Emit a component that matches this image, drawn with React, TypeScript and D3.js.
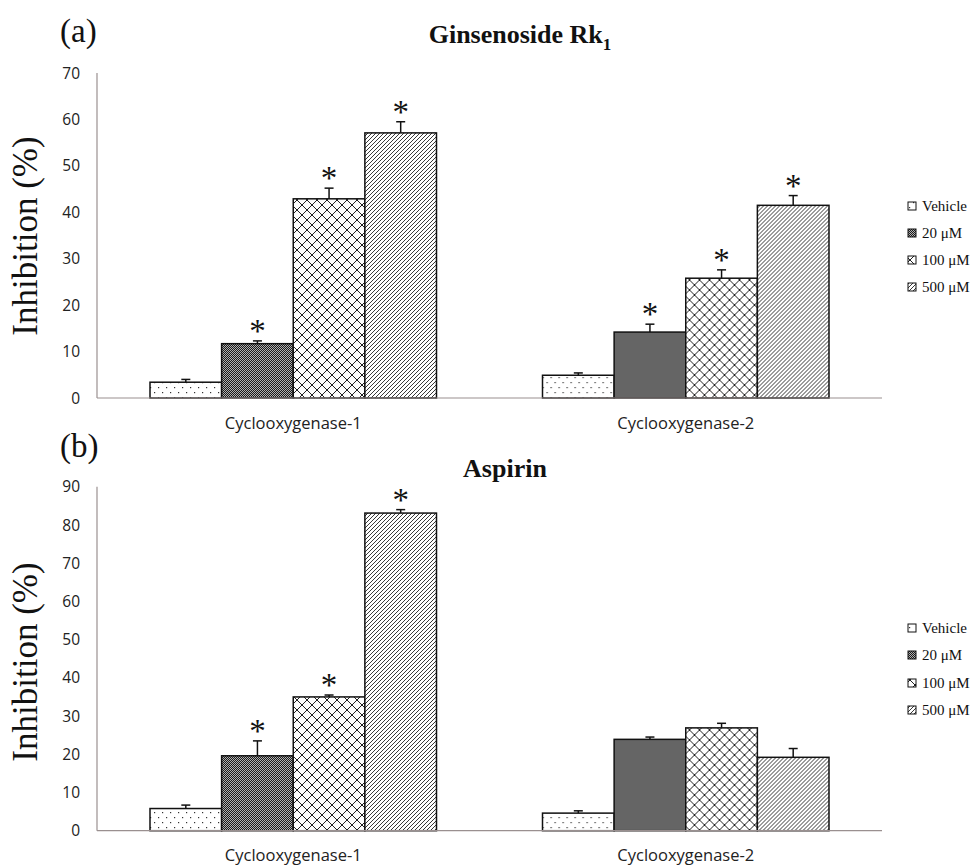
import React from "react";
import * as d3 from "d3";

const categories = ["Cyclooxygenase-1", "Cyclooxygenase-2"];
const seriesNames = ["Vehicle", "20 μM", "100 μM", "500 μM"];

const rkValues = [
  [3.4, 11.7, 42.9, 57.1],
  [4.9, 14.2, 25.8, 41.5],
];
const rkErrors = [
  [0.6, 0.6, 2.3, 2.4],
  [0.5, 1.7, 1.8, 2.1],
];
const rkSig = [
  [false, true, true, true],
  [false, true, true, true],
];
const rkTicks = [0, 10, 20, 30, 40, 50, 60, 70];

const aspValues = [
  [5.8, 19.6, 35.0, 83.1],
  [4.6, 23.9, 26.9, 19.2],
];
const aspErrors = [
  [0.9, 3.9, 0.5, 0.9],
  [0.6, 0.6, 1.2, 2.3],
];
const aspSig = [
  [false, true, true, true],
  [false, false, false, false],
];
const aspTicks = [0, 10, 20, 30, 40, 50, 60, 70, 80, 90];

const patternIds = ["pDots", "pCheck", "pCross", "pHatch"];

const SERIF = "'Liberation Serif', 'Times New Roman', serif";
const SANS = "'Open Sans', 'Noto Sans', sans-serif";
const AXIS = "#9a9090";

type PanelProps = {
  yTop: number;
  yBottom: number;
  ticks: number[];
  values: number[][];
  errors: number[][];
  sig: boolean[][];
  letter: string;
  letterY: number;
  title: React.ReactNode;
  titleX: number;
  titleY: number;
  labelY: number;
  legendY: number[];
};

function Panel(p: PanelProps) {
  const maxT = p.ticks[p.ticks.length - 1];
  const y = d3.scaleLinear().domain([0, maxT]).range([p.yBottom, p.yTop]);
  const x0 = d3.scaleBand<string>().domain(categories).range([97, 882]).padding(0);
  const x1 = d3
    .scaleBand<string>()
    .domain(seriesNames)
    .range([0, x0.bandwidth()])
    .paddingInner(0)
    .paddingOuter(0.74);
  return (
    <g>
      <text x={60} y={p.letterY} fontFamily={SERIF} fontSize={33} fill="#111">
        {p.letter}
      </text>
      <text
        x={p.titleX}
        y={p.titleY}
        textAnchor="middle"
        fontFamily={SERIF}
        fontWeight="bold"
        fontSize={26}
        fill="#111"
      >
        {p.title}
      </text>
      <text
        transform={`translate(37,${p.labelY}) rotate(-90)`}
        textAnchor="middle"
        fontFamily={SERIF}
        fontSize={35}
        fill="#111"
      >
        Inhibition (%)
      </text>
      {p.ticks.map((t) => (
        <text
          key={t}
          x={80}
          y={y(t)}
          dy="0.36em"
          textAnchor="end"
          fontFamily={SANS}
          fontSize={15.5}
          fill="#222"
        >
          {t}
        </text>
      ))}
      {categories.map((c, ci) => (
        <g key={c} transform={`translate(${x0(c)},0)`}>
          {seriesNames.map((s, si) => {
            const v = p.values[ci][si];
            const e = p.errors[ci][si];
            const bx = x1(s)!;
            const bw = x1.bandwidth();
            const cx = bx + bw / 2;
            const capY = y(v + e);
            return (
              <g key={s}>
                <rect
                  x={bx}
                  y={y(v)}
                  width={bw}
                  height={y(0) - y(v)}
                  fill={`url(#${patternIds[si]})`}
                  stroke="#111"
                  strokeWidth={1.5}
                />
                <line x1={cx} x2={cx} y1={y(v)} y2={capY} stroke="#111" strokeWidth={1.5} />
                <line x1={cx - 4.5} x2={cx + 4.5} y1={capY} y2={capY} stroke="#111" strokeWidth={1.5} />
                {p.sig[ci][si] && (
                  <text
                    x={cx}
                    y={capY + 1}
                    textAnchor="middle"
                    fontFamily={SERIF}
                    fontSize={33}
                    fill="#111"
                  >
                    *
                  </text>
                )}
              </g>
            );
          })}
          <text
            x={x0.bandwidth() / 2}
            y={p.yBottom + 30.5}
            textAnchor="middle"
            fontFamily={SANS}
            fontSize={16.5}
            fill="#222"
          >
            {c}
          </text>
        </g>
      ))}
      <line x1={97} x2={97} y1={p.yTop} y2={p.yBottom} stroke={AXIS} strokeWidth={1.2} />
      <line x1={97} x2={882} y1={p.yBottom} y2={p.yBottom} stroke={AXIS} strokeWidth={1.2} />
      {seriesNames.map((s, si) => (
        <g key={s}>
          <rect
            x={908}
            y={p.legendY[si] - 4}
            width={8}
            height={8}
            fill={`url(#${patternIds[si]})`}
            stroke="#111"
            strokeWidth={1}
          />
          <text
            x={922}
            y={p.legendY[si]}
            dy="0.35em"
            fontFamily={SERIF}
            fontSize={15}
            fill="#111"
          >
            {s}
          </text>
        </g>
      ))}
    </g>
  );
}

export default function App() {
  return (
    <svg
      width={980}
      height={866}
      style={{ position: "absolute", left: 0, top: 0, background: "#fff" }}
    >
      <defs>
        <pattern id="pDots" patternUnits="userSpaceOnUse" width={8} height={10}>
          <rect width={8} height={10} fill="#fff" />
          <rect x={1} y={2} width={1.2} height={1.2} fill="#333" />
          <rect x={5} y={7} width={1.2} height={1.2} fill="#333" />
        </pattern>
        <pattern id="pCheck" patternUnits="userSpaceOnUse" width={2} height={2}>
          <rect width={2} height={2} fill="#b0b0b0" />
          <rect x={0} y={0} width={1} height={1} fill="#1a1a1a" />
          <rect x={1} y={1} width={1} height={1} fill="#1a1a1a" />
        </pattern>
        <pattern id="pCross" patternUnits="userSpaceOnUse" width={10} height={10}>
          <rect width={10} height={10} fill="#fff" />
          <path d="M0,0 L10,10 M10,0 L0,10" stroke="#222" strokeWidth={1} />
        </pattern>
        <pattern id="pHatch" patternUnits="userSpaceOnUse" width={4} height={4}>
          <rect width={4} height={4} fill="#fff" />
          <path d="M0,4 L4,0 M-1,1 L1,-1 M3,5 L5,3" stroke="#222" strokeWidth={0.9} />
        </pattern>
      </defs>
      <Panel
        yTop={73}
        yBottom={398}
        ticks={rkTicks}
        values={rkValues}
        errors={rkErrors}
        sig={rkSig}
        letter="(a)"
        letterY={42}
        title={
          <>
            Ginsenoside Rk
            <tspan fontSize={17} dy={7}>
              1
            </tspan>
          </>
        }
        titleX={520}
        titleY={43}
        labelY={236}
        legendY={[206, 233, 260, 287]}
      />
      <Panel
        yTop={486.7}
        yBottom={830.7}
        ticks={aspTicks}
        values={aspValues}
        errors={aspErrors}
        sig={aspSig}
        letter="(b)"
        letterY={457}
        title="Aspirin"
        titleX={505}
        titleY={477}
        labelY={662}
        legendY={[628, 655, 683, 710]}
      />
    </svg>
  );
}
